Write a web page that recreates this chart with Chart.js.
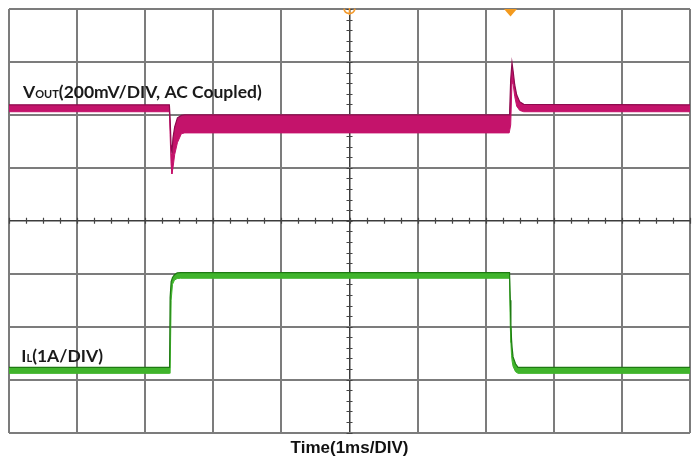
<!DOCTYPE html>
<html>
<head>
<meta charset="utf-8">
<script src="https://cdn.jsdelivr.net/npm/chart.js@4.4.0/dist/chart.umd.min.js"></script>
<style>
  html, body { margin: 0; padding: 0; background: #ffffff; }
  canvas { display: block; }
</style>
</head>
<body>
<canvas id="scope" width="699" height="461"></canvas>
<script>
// Screen: 10 horizontal divisions at 1 ms/DIV, 8 vertical divisions
const timeDivs = [0, 1, 2, 3, 4, 5, 6, 7, 8, 9, 10];
const vertDivs = [-4, -3, -2, -1, 0, 1, 2, 3, 4];

// VOUT trace (AC coupled, mV): upper and lower edges of the noise band
const vTime  = [0, 2.355, 2.366, 2.380, 2.392, 2.408, 2.433, 2.473, 2.531, 2.580, 7.345, 7.352, 7.367, 7.386, 7.404, 7.426, 7.455, 7.499, 7.558, 10];
const vUpper = [13, 13, -40, -140, -170, -112, -70, -36, -27, -25, -25, -10, 108, 172, 138, 89, 51, 25, 15, 13];
const vLower = [-13, -13, -100, -210, -248, -225, -175, -130, -96, -93, -93, -93, -63, 100, 89, 45, 8, -8, -13, -13];

// IL trace (A): upper and lower edges of the band
const iTime  = [0, 2.358, 2.366, 2.381, 2.401, 2.430, 2.470, 2.520, 7.350, 7.361, 7.370, 7.380, 7.388, 7.402, 7.438, 7.475, 10];
const iUpper = [0.232, 0.232, 1.55, 1.85, 1.93, 1.98, 2.015, 2.021, 2.021, 1.5, 1.0, 0.75, 0.6, 0.43, 0.30, 0.232, 0.232];
const iLower = [0.119, 0.119, 0.119, 1.50, 1.80, 1.88, 1.91, 1.915, 1.915, 1.0, 0.7, 0.45, 0.35, 0.25, 0.15, 0.119, 0.119];

// Channel scale and position on screen
const VOUT_MV_PER_DIV = 200, VOUT_OFFSET_DIV = 2.125;
const IL_A_PER_DIV = 1, IL_OFFSET_DIV = -3;

// Top-edge markers (ms): trigger position and cursor
const markerTimes = [5, 7.364];

const toPoints = (t, v, perDiv, offset) => t.map((tt, i) => ({ x: tt, y: offset + v[i] / perDiv }));

const PINK = '#C4136B', PINK_DARK = '#8E0A4E';
const GREEN = '#40B42C', GREEN_DARK = '#1E7A12';

const scopeDecor = {
  id: 'scopeDecor',
  beforeDatasetsDraw(chart) {
    const { ctx, scales: { x, y } } = chart;
    const cx = x.getPixelForValue(5), cy = y.getPixelForValue(0);
    ctx.save();
    ctx.strokeStyle = '#444444';
    ctx.lineWidth = 1.2;
    ctx.beginPath();
    for (let t = 0; t <= 10.001; t += 0.25) {
      const px = Math.round(x.getPixelForValue(t)) + 0.5;
      ctx.moveTo(px, cy - 3); ctx.lineTo(px, cy + 3);
    }
    for (let d = -4; d <= 4.001; d += 0.2) {
      const py = Math.round(y.getPixelForValue(d)) + 0.5;
      ctx.moveTo(cx - 3, py); ctx.lineTo(cx + 3, py);
    }
    ctx.stroke();
    ctx.restore();
  },
  afterDatasetsDraw(chart) {
    const { ctx, scales: { x, y }, chartArea } = chart;
    ctx.save();
    ctx.fillStyle = '#1a1a1a';
    ctx.textBaseline = 'alphabetic';
    const drawLabel = (main, sub, rest, t, d) => {
      let px = x.getPixelForValue(t);
      const py = y.getPixelForValue(d);
      ctx.font = 'bold 17.5px Lato';
      ctx.fillText(main, px, py); px += ctx.measureText(main).width;
      ctx.font = 'bold 11px Lato';
      ctx.fillText(sub, px, py); px += ctx.measureText(sub).width;
      ctx.font = 'bold 17.5px Lato';
      ctx.fillText(rest, px, py);
    };
    drawLabel('V', 'OUT', '(200mV/DIV, AC Coupled)', 0.206, 2.318);
    drawLabel('I', 'L', '(1A/DIV)', 0.18, -2.662);

    // trigger position marker
    const top = chartArea.top;
    const tx = x.getPixelForValue(markerTimes[0]);
    ctx.strokeStyle = '#F29A2E';
    ctx.lineWidth = 1.6;
    ctx.beginPath();
    ctx.arc(tx, top - 1, 5.5, 0.1, Math.PI - 0.1);
    ctx.moveTo(tx, top - 1); ctx.lineTo(tx, top + 6);
    ctx.stroke();
    // cursor marker
    const mx = x.getPixelForValue(markerTimes[1]);
    ctx.fillStyle = '#F39A1E';
    ctx.beginPath();
    ctx.moveTo(mx - 6.5, top); ctx.lineTo(mx + 6.5, top); ctx.lineTo(mx, top + 7.5);
    ctx.closePath();
    ctx.fill();
    ctx.restore();
  }
};

const gridColor = (center) => (c) => (c.tick && c.tick.value === center) ? '#3c3c3c' : '#7c7c7c';
const gridWidth = (center) => (c) => (c.tick && c.tick.value === center) ? 1.5 : 2;

new Chart(document.getElementById('scope'), {
  type: 'line',
  data: {
    datasets: [
      { data: toPoints(vTime, vUpper, VOUT_MV_PER_DIV, VOUT_OFFSET_DIV), borderColor: PINK_DARK, borderWidth: 1.2, fill: false },
      { data: toPoints(vTime, vLower, VOUT_MV_PER_DIV, VOUT_OFFSET_DIV), borderColor: PINK, borderWidth: 1, backgroundColor: PINK, fill: '-1' },
      { data: toPoints(iTime, iUpper, IL_A_PER_DIV, IL_OFFSET_DIV), borderColor: GREEN_DARK, borderWidth: 1.2, fill: false },
      { data: toPoints(iTime, iLower, IL_A_PER_DIV, IL_OFFSET_DIV), borderColor: GREEN, borderWidth: 1, backgroundColor: GREEN, fill: '-1' }
    ]
  },
  options: {
    responsive: false,
    animation: false,
    devicePixelRatio: 1,
    layout: { padding: { left: 9, right: 9, top: 9, bottom: 0 } },
    elements: { point: { radius: 0 }, line: { tension: 0 } },
    plugins: { legend: { display: false }, tooltip: { enabled: false } },
    scales: {
      x: {
        type: 'linear', min: 0, max: 10,
        afterBuildTicks: (s) => { s.ticks = timeDivs.map(v => ({ value: v })); },
        ticks: { display: false },
        grid: { color: gridColor(5), lineWidth: gridWidth(5), drawTicks: false },
        border: { display: false },
        title: { display: true, text: 'Time(1ms/DIV)', color: '#111111',
                 font: { family: 'Liberation Sans', size: 17, weight: 'bold', lineHeight: 1.2 },
                 padding: { top: 6, bottom: 2 } }
      },
      y: {
        type: 'linear', min: -4, max: 4,
        afterBuildTicks: (s) => { s.ticks = vertDivs.map(v => ({ value: v })); },
        ticks: { display: false },
        grid: { color: gridColor(0), lineWidth: gridWidth(0), drawTicks: false },
        border: { display: false }
      }
    }
  },
  plugins: [scopeDecor]
});
</script>
</body>
</html>
